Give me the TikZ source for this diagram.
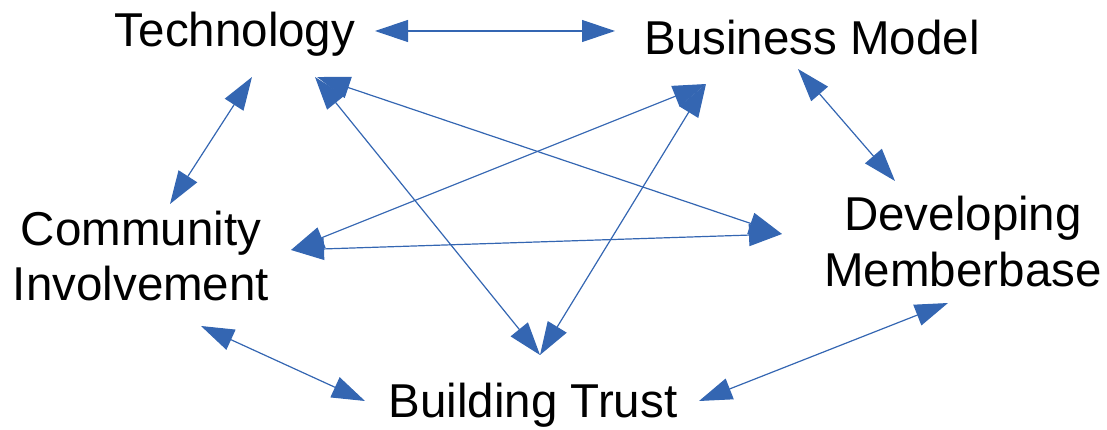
\documentclass[tikz,border=0pt]{standalone}
\usepackage{fontspec}
\setmainfont{Liberation Sans}
\usepackage{xcolor}
\usepackage{tikz}
\usetikzlibrary{arrows.meta}

\definecolor{linkblue}{RGB}{52,102,178}

\begin{document}
\begin{tikzpicture}[x=1pt, y=1pt,
    topic/.style={inner sep=0, anchor=base, align=center, font=\fontsize{47.5}{55}\selectfont},
    link/.style={linkblue, line width=1.2pt, {Triangle[length=33pt,width=22pt]}-{Triangle[length=33pt,width=22pt]}}]
    \useasboundingbox (0,0) rectangle (1107,-430);

    % base of two-line topics sits on the last line
    \node [topic] (tech) at (235,-47) {Technology};
    \node [topic] (model) at (812,-55) {Business Model};
    \node [topic] (community) at (141,-300) {Community\\Involvement};
    \node [topic] (members) at (963,-286) {Developing\\Memberbase};
    \node [topic] (trust) at (533,-417) {Building Trust};

    % outer ring
    \draw[link] ([shift={(140,16)}]tech.base) -- ([shift={(-197,24)}]model.base);
    \draw[link] ([shift={(-14,-14)}]model.base) -- ([shift={(-68,105)}]members.base);
    \draw[link] ([shift={(-15,-17)}]members.base) -- ([shift={(166,16)}]trust.base);
    \draw[link] ([shift={(-168,16)}]trust.base) -- ([shift={(60,-26)}]community.base);
    \draw[link] ([shift={(29,96)}]community.base) -- ([shift={(17,-30)}]tech.base);

    % inner star
    \draw[link] ([shift={(80,-30)}]tech.base) -- ([shift={(7,62)}]trust.base);
    \draw[link] ([shift={(82,-30)}]tech.base) -- ([shift={(-181,52)}]members.base);
    \draw[link] ([shift={(-106,-29)}]model.base) -- ([shift={(150,50)}]community.base);
    \draw[link] ([shift={(-106,-29)}]model.base) -- ([shift={(7,62)}]trust.base);
    \draw[link] ([shift={(150,50)}]community.base) -- ([shift={(-181,52)}]members.base);
\end{tikzpicture}
\end{document}
